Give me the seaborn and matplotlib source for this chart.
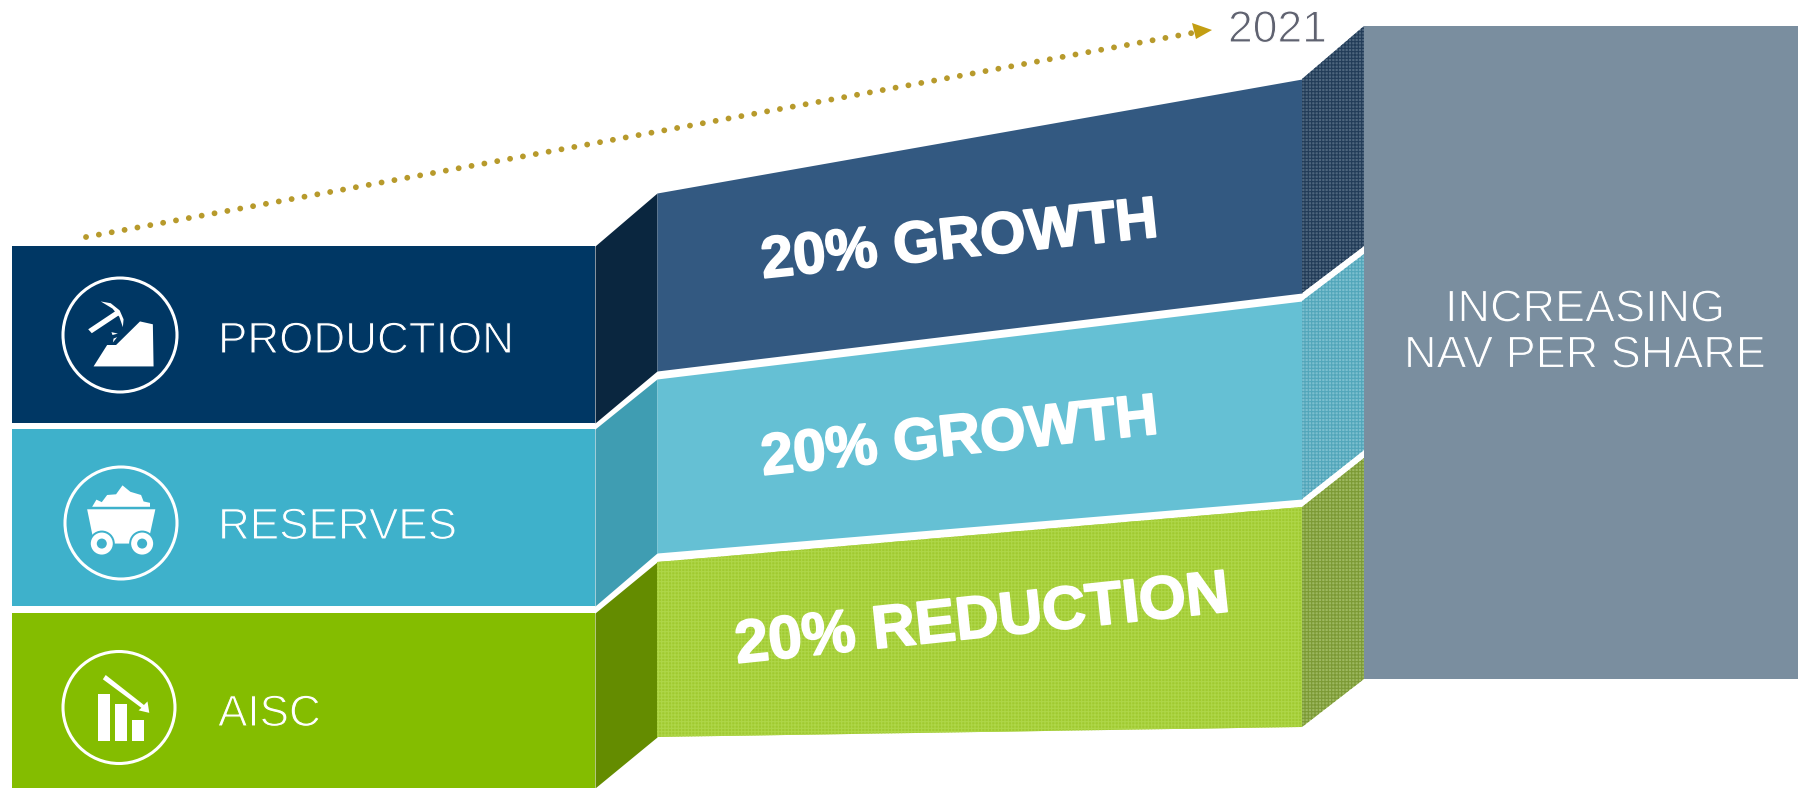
import matplotlib
matplotlib.use("Agg")
import matplotlib.pyplot as plt
import matplotlib.patheffects as pe
from matplotlib.patches import Circle, Polygon
import seaborn as sns

OUT_W, OUT_H = 1798, 788

# block edges, in picture pixels
stage_x = [12, 595, 657, 1302, 1364]
production_top = [246, 246, 193, 79, 26]
production_bottom = [423, 423, 371, 293, 246]
reserves_top = [429, 429, 379, 301, 254]
reserves_bottom = [606, 606, 553, 499, 450]
aisc_top = [613, 613, 562, 507, 458]
aisc_bottom = [788, 788, 737, 727, 679]
nav_x = [1364, 1798]
nav_top = [26, 26]
nav_bottom = [679, 679]
trend_x = [86, 1192]
trend_y = [237, 33]

categories = ["PRODUCTION", "RESERVES", "AISC"]
targets = ["20% GROWTH", "20% GROWTH", "20% REDUCTION"]

# face colours: front block, left side, middle, right side
production_colors = ["#003764", "#0A263F", "#335981", "#4E667E"]
reserves_colors = ["#3EB1CB", "#3F9DB2", "#65C0D4", "#7CBFCF"]
aisc_colors = ["#84BD00", "#648C00", "#A0CA30", "#9DB85F"]


def draw_band(ax, top, bottom, colors, hatch_colors):
    for i, color in enumerate(colors):
        xs = stage_x[i:i + 2]
        hatch = hatch_colors[i]
        ax.fill_between(
            xs, top[i:i + 2], bottom[i:i + 2], facecolor=color, linewidth=0,
            hatch="+++++" if hatch else None, edgecolor=hatch if hatch else color,
        )


def zoom_xy(points):
    # icons were measured on a 2.8x crop that starts at y=230
    return [(x / 2.8, 230 + y / 2.8) for x, y in points]


def poly(ax, points, color="white"):
    ax.add_patch(Polygon(zoom_xy(points), closed=True, facecolor=color, edgecolor="none"))


def ring(ax, x, y, r):
    ax.add_patch(Circle((x, y), r, facecolor="none", edgecolor="white", linewidth=2.2))


def pick_icon(ax):
    ring(ax, 120, 335, 57)
    poly(ax, [(262, 382), (300, 322), (325, 322), (392, 256), (428, 264), (430, 382)])
    poly(ax, [(247, 278), (325, 226), (334, 238), (257, 289)])
    poly(ax, [(282, 200), (310, 205), (335, 225), (346, 250), (344, 272), (334, 243), (315, 220)])
    poly(ax, [(312, 286), (330, 290), (315, 294)])
    poly(ax, [(318, 304), (328, 300), (316, 315)])


def cart_icon(ax):
    ring(ax, 121, 523, 56)
    poly(ax, [(258, 775), (270, 755), (285, 762), (300, 742), (325, 740), (343, 715),
              (365, 733), (395, 742), (402, 760), (420, 764), (420, 775)])
    poly(ax, [(244, 782), (435, 782), (418, 860), (385, 878), (300, 878), (260, 860)])
    for cx, cy in zoom_xy([(285, 878), (398, 878)]):
        ax.add_patch(Circle((cx, cy), 13, facecolor=reserves_colors[0], edgecolor="none"))
        ax.add_patch(Circle((cx, cy), 11, facecolor="white", edgecolor="none"))
        ax.add_patch(Circle((cx, cy), 5, facecolor=reserves_colors[0], edgecolor="none"))


def cost_icon(ax):
    ring(ax, 119, 707.5, 56)
    poly(ax, [(274, 1300), (307, 1300), (307, 1432), (274, 1432)])
    poly(ax, [(322, 1326), (356, 1326), (356, 1432), (322, 1432)])
    poly(ax, [(370, 1371), (403, 1371), (403, 1432), (370, 1432)])
    poly(ax, [(288, 1258), (296, 1246), (403, 1330), (413, 1320), (418, 1352), (388, 1345), (396, 1338)])


def thin(background):
    # eats a little into the glyphs so they read as a light weight
    return [pe.Stroke(linewidth=0.8, foreground=background)]


sns.set_theme(style="white")
plt.rcParams["hatch.linewidth"] = 0.8
plt.rcParams["font.family"] = ["Liberation Sans", "DejaVu Sans"]

fig = plt.figure(figsize=(OUT_W / 100, OUT_H / 100), dpi=100)
ax = fig.add_axes([0, 0, 1, 1])
ax.set_xlim(0, OUT_W)
ax.set_ylim(OUT_H, 0)
ax.axis("off")

draw_band(ax, production_top, production_bottom, production_colors, [None, None, None, "#223C58"])
draw_band(ax, reserves_top, reserves_bottom, reserves_colors, [None, None, None, "#52A6BA"])
draw_band(ax, aisc_top, aisc_bottom, aisc_colors, [None, None, "#AED648", "#7C9A35"])
ax.fill_between(nav_x, nav_top, nav_bottom, facecolor="#7A8E9F", linewidth=0)

# dotted trend line and its arrow head
sns.lineplot(x=trend_x, y=trend_y, ax=ax, color="#B79A2C", linewidth=4.2,
             linestyle=(0, (0.01, 2.23)), dash_capstyle="round", estimator=None, sort=False)
ax.add_patch(Polygon([(1192, 23), (1212, 30), (1196, 39)], facecolor="#C39E12", edgecolor="none"))
ax.text(1228, 42, "2021", color="#5F6270", fontsize=32, ha="left", va="baseline",
        path_effects=thin("white"))

pick_icon(ax)
cart_icon(ax)
cost_icon(ax)

label_y = [353, 539, 726]
label_bg = [production_colors[0], reserves_colors[0], aisc_colors[0]]
for name, y, bg in zip(categories, label_y, label_bg):
    ax.text(218, y, name, color="white", fontsize=31.7, ha="left", va="baseline",
            path_effects=thin(bg))

target_xy = [(763, 278), (763, 475), (737, 663)]
target_size = [42, 42, 43.5]
for name, (x, y), size in zip(targets, target_xy, target_size):
    ax.text(x, y, name, color="white", fontsize=size, fontweight="bold", ha="left", va="baseline",
            rotation=6, rotation_mode="anchor",
            path_effects=[pe.withStroke(linewidth=1.3, foreground="white")])

ax.text(1585, 310, "INCREASING", color="white", fontsize=32.4, ha="center", va="center",
        path_effects=thin("#7A8E9F"))
ax.text(1585, 356, "NAV PER SHARE", color="white", fontsize=32.4, ha="center", va="center",
        path_effects=thin("#7A8E9F"))

fig.savefig("out.png", dpi=100)
